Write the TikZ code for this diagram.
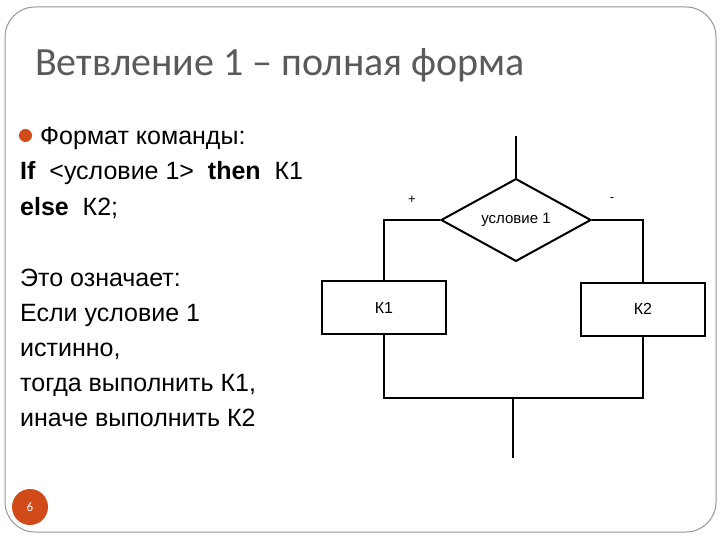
\documentclass[tikz,border=0pt]{standalone}
\usepackage{fontspec}
\usepackage{xcolor}
\usepackage{tikz}
\usetikzlibrary{shapes.geometric,positioning,calc}
\newfontfamily\bodyfont{Liberation Sans}
\newfontfamily\titlefont{Carlito}
\definecolor{clrT}{RGB}{90,90,90}
\definecolor{clrO}{RGB}{208,74,26}
\definecolor{clrF}{RGB}{150,150,150}
\tikzset{
  line/.style={line width=2pt,color=black},
  txt/.style={anchor=base west,inner sep=0pt,font=\bodyfont\fontsize{25}{28}\selectfont},
  block/.style={rectangle,draw=black,line width=2pt,minimum width=124pt,minimum height=53pt,
    inner sep=0pt,font=\bodyfont\fontsize{16}{18}\selectfont},
  cond/.style={diamond,draw=black,line width=2pt,minimum width=150pt,minimum height=74pt,
    inner sep=0pt,font=\bodyfont\fontsize{15}{17}\selectfont},
  sign/.style={font=\bodyfont\fontsize{13}{14}\selectfont,inner sep=0pt}
}
\begin{document}
\begin{tikzpicture}[x=1pt,y=-1pt]
  \useasboundingbox (0,0) rectangle (720,540);
  \fill[white] (0,0) rectangle (720,540);
  % slide frame
  \draw[clrF,line width=1pt,rounded corners=30pt] (5,7) rectangle (716,532);
  \node[anchor=base west,inner sep=0pt,text=clrT,font=\titlefont\fontsize{40}{46}\selectfont]
    (title) at (35,76) {Ветвление 1 – полная форма};
  % text column
  \fill[clrO] (25.5,135.5) circle (6.5);
  \node[txt] (l1) at (40,145) {Формат команды:};
  \node[txt] (l2) at (20,180) {\textbf{If}\ \ <условие 1>\ \ \textbf{then}\ \ К1};
  \node[txt] (l3) at (20,215) {\textbf{else}\ \ К2;};
  \node[txt] (l4) at (20,286) {Это означает:};
  \node[txt] (l5) at (20,321) {Если условие 1};
  \node[txt] (l6) at (20,356) {истинно,};
  \node[txt] (l7) at (20,391) {тогда выполнить К1,};
  \node[txt] (l8) at (20,426) {иначе выполнить К2};
  % flowchart
  \node[cond] (c) at (516,220) {условие 1};
  \node[block] (k1) at (384,307.5) {К1};
  \node[block] (k2) at (643,309) {К2};
  \coordinate (in) at (516,136);
  \coordinate (out) at (513,458);
  \coordinate (jl) at (384,398);
  \coordinate (jr) at (643,398);
  \draw[line] (in) -- (c.north);
  \draw[line] (c.west) -| (k1.north);
  \draw[line] (c.east) -| (k2.north);
  \draw[line] (k1.south) -- (jl) -- (jr) -- (k2.south);
  \draw[line] (out |- jl) -- (out);
  \node[sign] (plus) at (412,200) {+};
  \node[sign] (minus) at (612,200) {-};
  % page number
  \node[circle,fill=clrO,minimum size=36pt,inner sep=0pt,text=white,
    font=\titlefont\fontsize{13}{15}\selectfont] (pg) at (30,507) {6};
\end{tikzpicture}
\end{document}
